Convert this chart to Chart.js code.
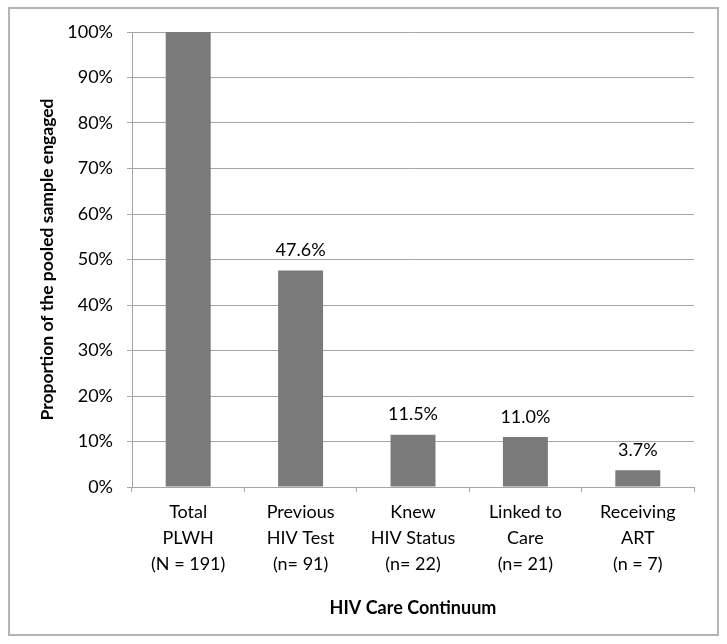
<!DOCTYPE html>
<html>
<head>
<meta charset="utf-8">
<script src="https://cdn.jsdelivr.net/npm/chart.js@4/dist/chart.umd.min.js"></script>
<style>
  html, body { margin: 0; padding: 0; background: #fff; }
  #wrap { width: 727px; height: 644px; }
</style>
</head>
<body>
<div id="wrap"><canvas id="chart" width="727" height="644"></canvas></div>
<script>
// categories and values
var categories = [
  ["Total", "PLWH", "(N = 191)"],
  ["Previous", "HIV Test", "(n= 91)"],
  ["Knew", "HIV Status", "(n= 22)"],
  ["Linked to", "Care", "(n= 21)"],
  ["Receiving", "ART", "(n = 7)"]
];
var proportions = [100, 47.6, 11.5, 11.0, 3.7];
var valueLabels = [null, "47.6%", "11.5%", "11.0%", "3.7%"];

var fontFamily = "Lato, 'Open Sans', sans-serif";
var gridColor = "#a6a6a6";

// outer frame round the whole picture
var framePlugin = {
  id: 'frame',
  beforeDraw: function (chart) {
    var c = chart.ctx;
    c.save();
    c.fillStyle = '#fff';
    c.fillRect(0, 0, chart.width, chart.height);
    c.strokeStyle = '#b4b4b4';
    c.lineWidth = 2;
    c.strokeRect(9, 8, 709, 627);
    c.restore();
  }
};

// value text above the bars
var valueLabelPlugin = {
  id: 'valueLabels',
  afterDatasetsDraw: function (chart) {
    var c = chart.ctx;
    var meta = chart.getDatasetMeta(0);
    c.save();
    c.font = "18px " + fontFamily;
    c.fillStyle = '#000';
    c.textAlign = 'center';
    c.textBaseline = 'middle';
    meta.data.forEach(function (bar, i) {
      if (!valueLabels[i]) return;
      c.fillText(valueLabels[i], bar.x, bar.y - 20);
    });
    c.restore();
  }
};

var ctx = document.getElementById("chart").getContext('2d');
var myBarChart = new Chart(ctx, {
  type: 'bar',
  data: {
    labels: categories,
    datasets: [{
      data: proportions,
      backgroundColor: "#7a7a7a",
      barPercentage: 0.4,
      categoryPercentage: 1.0
    }]
  },
  options: {
    responsive: false,
    animation: false,
    layout: {
      padding: { left: 20, top: 32, right: 33, bottom: 20 }
    },
    plugins: {
      legend: { display: false },
      tooltip: { enabled: false }
    },
    scales: {
      x: {
        grid: {
          offset: true,
          drawOnChartArea: false,
          drawTicks: true,
          tickLength: 5,
          color: gridColor
        },
        border: { display: true, color: gridColor, width: 1 },
        ticks: {
          color: '#000',
          font: { family: fontFamily, size: 18, lineHeight: 1.45 },
          padding: 7,
          maxRotation: 0,
          autoSkip: false
        },
        title: {
          display: true,
          text: "HIV Care Continuum",
          color: '#000',
          font: { family: fontFamily, size: 18, weight: 'bold' },
          padding: { top: 4, bottom: 5 }
        },
        afterFit: function (s) { s.height = 137; }
      },
      y: {
        min: 0,
        max: 100,
        grid: {
          color: gridColor,
          tickLength: 5,
          lineWidth: 1
        },
        border: { display: true, color: gridColor, width: 1 },
        ticks: {
          stepSize: 10,
          color: '#000',
          padding: 14,
          font: { family: fontFamily, size: 18 },
          callback: function (v) { return v + "%"; }
        },
        title: {
          display: true,
          text: "Proportion of the pooled sample engaged",
          color: '#000',
          font: { family: fontFamily, size: 17.5, weight: 'bold' },
          padding: { top: 17, bottom: 4 }
        },
        afterFit: function (s) { s.width = 112; }
      }
    }
  },
  plugins: [framePlugin, valueLabelPlugin]
});
</script>
</body>
</html>
